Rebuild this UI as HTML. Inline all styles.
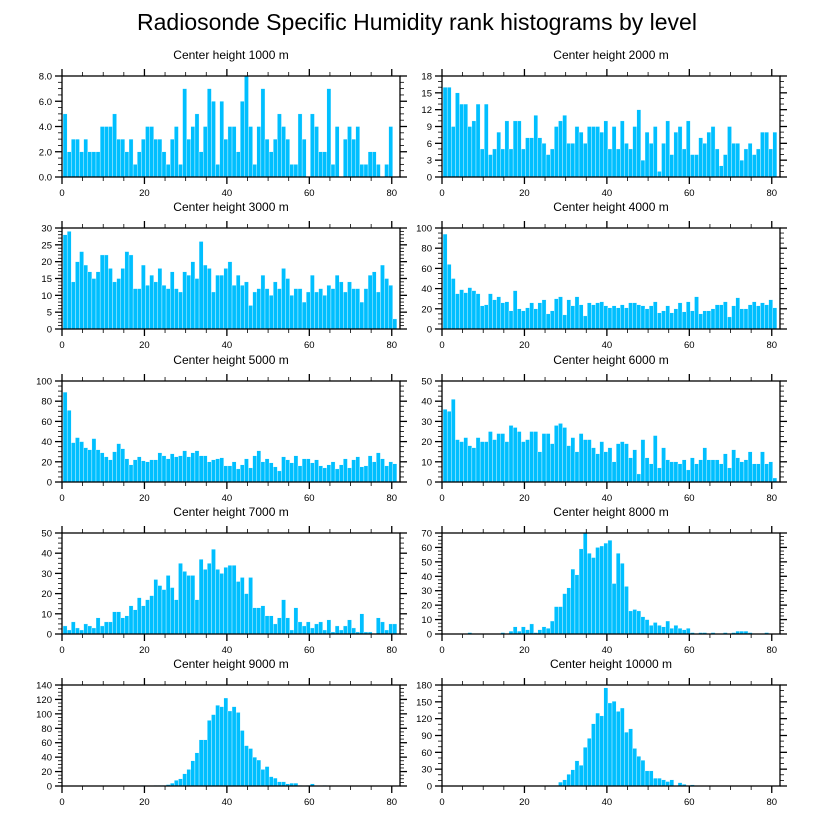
<!DOCTYPE html>
<html><head><meta charset="utf-8">
<style>
html,body{margin:0;padding:0;background:#fff;}
svg{display:block;font-family:"Liberation Sans",sans-serif;}
</style></head>
<body>
<svg id="chart" width="821" height="824" viewBox="0 0 821 824" xmlns="http://www.w3.org/2000/svg">
<text x="417" y="30" font-size="23" text-anchor="middle" fill="#000">Radiosonde Specific Humidity rank histograms by level</text>
</svg>
<script>
const titles = ["Center height 1000 m","Center height 2000 m","Center height 3000 m","Center height 4000 m","Center height 5000 m","Center height 6000 m","Center height 7000 m","Center height 8000 m","Center height 9000 m","Center height 10000 m"];
const v1000 = [5,2,3,3,2,3,2,2,2,4,4,4,5,3,3,2,3,1,2,3,4,4,3,3,2,1,3,4,1,7,3,4,5,2,4,7,6,1,6,3,4,4,2,6,8,4,1,4,7,3,2,3,5,4,3,1,1,5,3,0,5,4,2,2,7,1,4,0,3,4,3,4,1,1,2,2,1,0,1,4,0];
const v2000 = [16,16,9,15,13,13,9,10,13,5,13,4,5,8,5,10,5,10,10,5,7,7,11,7,6,4,5,9,10,11,6,6,9,8,6,9,9,9,8,10,5,9,5,10,6,5,9,12,3,8,6,9,1,6,10,4,8,9,5,10,4,4,7,6,8,9,5,2,4,9,6,6,3,5,6,4,5,8,8,5,8];
const v3000 = [28,29,14,20,23,19,17,15,17,22,22,18,14,15,18,23,22,12,12,19,13,16,14,18,13,12,17,12,11,17,16,20,15,26,19,18,11,16,16,18,20,13,16,13,14,7,11,12,16,12,10,14,12,18,15,10,12,12,8,11,16,11,12,10,13,12,16,14,11,14,12,12,8,12,16,17,11,19,15,13,3];
const v4000 = [94,64,50,35,39,36,41,38,35,23,24,35,29,32,26,27,18,38,20,18,21,26,20,26,29,15,18,30,32,14,29,23,32,24,13,26,24,26,27,23,21,23,21,24,21,26,26,24,23,20,23,27,16,18,23,16,20,26,17,27,18,32,15,18,18,20,24,24,27,12,23,31,20,20,24,27,23,26,24,29,21];
const v5000 = [89,71,39,44,40,34,32,43,32,29,25,22,30,38,33,23,17,22,25,21,20,22,22,29,26,23,28,25,26,31,25,29,31,26,26,20,22,23,24,16,16,20,13,17,23,14,26,31,20,23,19,15,11,25,22,19,26,16,23,23,19,22,16,14,17,20,13,17,23,14,22,25,15,16,26,20,29,23,16,20,18];
const v6000 = [36,35,41,21,20,22,18,17,22,20,20,25,21,24,24,20,28,27,25,20,21,25,25,15,24,24,19,28,29,27,18,22,15,24,21,21,17,14,20,15,17,10,19,20,19,12,16,4,21,12,9,23,7,17,11,10,10,9,11,6,12,9,11,17,11,11,11,9,14,7,16,12,10,11,15,9,9,15,9,10,2];
const v7000 = [4,2,6,3,2,5,4,3,8,4,6,6,11,11,8,9,14,12,18,14,17,19,27,24,22,29,23,17,35,31,29,29,17,37,32,35,42,32,30,33,34,34,26,28,20,28,13,13,14,9,9,5,8,17,8,2,13,6,4,6,3,5,6,2,7,1,4,2,4,7,3,1,10,1,1,0,8,6,2,5,5];
const v8000 = [0,0,0,0,0,0,1,0,0,0,0,0,0,0,1,0,2,5,2,5,3,7,1,3,5,4,9,19,19,28,32,45,41,59,70,56,53,60,61,63,65,35,56,49,33,16,17,16,12,10,6,8,6,5,9,4,6,4,3,4,1,0,1,1,0,1,0,0,1,0,1,2,2,2,1,0,0,0,1,0,0];
const v9000 = [0,0,0,0,0,0,0,0,0,0,0,0,0,0,0,0,0,0,0,1,0,0,1,1,1,2,4,8,10,17,23,35,46,64,64,91,99,112,110,122,104,110,102,77,56,52,40,36,23,27,13,11,6,6,3,4,4,1,0,1,3,0,0,1,0,0,0,0,0,0,0,0,0,0,0,0,0,0,0,0,0];
const v10000 = [0,0,0,0,0,0,0,0,0,0,0,0,0,0,0,0,0,0,0,0,0,0,0,0,0,1,1,1,7,11,21,29,45,37,69,85,111,130,125,175,148,151,133,139,96,102,67,53,46,27,27,14,14,11,8,11,0,6,3,0,2,0,0,0,0,0,0,0,0,0,0];
const yMax = [8,18,30,100,100,50,50,70,140,180];
const yStep = [2,3,5,20,20,10,10,10,20,30];
const yDec = [1,0,0,0,0,0,0,0,0,0];
const xTicks = [0,20,40,60,80];
const series = [v1000,v2000,v3000,v4000,v5000,v6000,v7000,v8000,v9000,v10000];

const NS = "http://www.w3.org/2000/svg";
const svg = document.getElementById('chart');
const colX = [62,442];
const rowY = [76,228,381,533,685];
const PW = 338, PH = 101, XMAX = 82;
function mk(tag, attrs, parent){const e=document.createElementNS(NS,tag);for(const k in attrs)e.setAttribute(k,attrs[k]);parent.appendChild(e);return e;}

for (let p=0;p<10;p++){
  const x0 = colX[p%2], y0 = rowY[Math.floor(p/2)];
  const xs = v => x0 + v/XMAX*PW;
  const ys = v => y0 + PH - v/yMax[p]*PH;
  const g = mk('g',{},svg);
  
  
  const t = mk('text',{x:x0+PW/2,y:y0-17,'font-size':12,'text-anchor':'middle',fill:'#000'},g);
  t.textContent = titles[p];
  
  
  const vals = series[p];
  for (let i=0;i<vals.length;i++){
    if (vals[i]<=0) continue;
    const c = i+0.75;
    const r = mk('rect',{x:xs(c-0.5),y:ys(vals[i]),width:xs(1)-x0,height:ys(0)-ys(vals[i]),fill:'#00bfff',stroke:'#ffffff','stroke-width':0.35},g);
    
    
  }
  const frame = mk('rect',{x:x0,y:y0,width:PW,height:PH,fill:'none',stroke:'#000','stroke-width':1.3},g);
  
  
  for (let v=0; v<=XMAX; v+=5){
    const major = v%20===0, len = major?7:4, X = xs(v);
    mk('line',{x1:X,x2:X,y1:y0+PH,y2:y0+PH+len,stroke:'#000','stroke-width':major?1.3:0.8},g);
    mk('line',{x1:X,x2:X,y1:y0,y2:y0-len,stroke:'#000','stroke-width':major?1.3:0.8},g);
  }
  for (const v of xTicks){
    const tl = mk('text',{x:xs(v),y:y0+PH+19,'font-size':9.5,'text-anchor':'middle',fill:'#000'},g);
    tl.textContent = v;
    
    
  }
  const minor = yStep[p]/ (yStep[p]===3?3:(yStep[p]===5?5:(yStep[p]===30?3:4)));
  for (let v=0; v<=yMax[p]+1e-9; v+=minor){
    const isMaj = Math.abs(v/yStep[p]-Math.round(v/yStep[p]))<1e-6, len = isMaj?7:4, Y = ys(v);
    mk('line',{x1:x0,x2:x0-len,y1:Y,y2:Y,stroke:'#000','stroke-width':isMaj?1.3:0.8},g);
    mk('line',{x1:x0+PW,x2:x0+PW+len,y1:Y,y2:Y,stroke:'#000','stroke-width':isMaj?1.3:0.8},g);
  }
  for (let v=0; v<=yMax[p]+1e-9; v+=yStep[p]){
    const yl = mk('text',{x:x0-10,y:ys(v)+3.5,'font-size':9.5,'text-anchor':'end',fill:'#000'},g);
    yl.textContent = v.toFixed(yDec[p]);
    
    
  }
}
</script>
</body></html>
